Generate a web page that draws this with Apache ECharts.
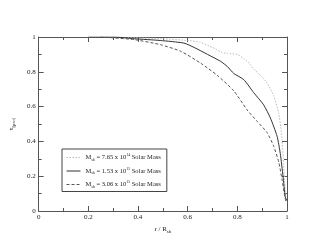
<!DOCTYPE html>
<html><head><meta charset="utf-8">
<script src="https://cdn.jsdelivr.net/npm/echarts@6/dist/echarts.min.js"></script>
<style>html,body{margin:0;padding:0;background:#fff}#c{width:322px;height:249px}</style>
</head><body><div id="c"></div>
<script>
var seriesNames = ['7.65', '1.53', '3.06'];
var seriesExp = ['14', '15', '15'];
var xDotted = [0.2, 0.3, 0.4, 0.5, 0.6, 0.65, 0.7, 0.733, 0.76, 0.8, 0.84, 0.87, 0.893, 0.92, 0.947, 0.967, 0.975, 0.98, 0.985, 0.99, 0.995, 1.0];
var yDotted = [1.0, 1.0, 0.995, 0.99, 0.98, 0.97, 0.94, 0.915, 0.905, 0.9, 0.86, 0.81, 0.78, 0.735, 0.66, 0.56, 0.48, 0.41, 0.3, 0.18, 0.08, 0.05];
var xSolid = [0.2, 0.3, 0.385, 0.49, 0.585, 0.626, 0.68, 0.733, 0.76, 0.786, 0.826, 0.866, 0.906, 0.933, 0.96, 0.973, 0.984, 0.993, 1.0];
var ySolid = [1.0, 1.0, 0.99, 0.98, 0.965, 0.94, 0.9, 0.86, 0.83, 0.79, 0.755, 0.68, 0.61, 0.535, 0.43, 0.33, 0.2, 0.08, 0.06];
var xDashed = [0.25, 0.3, 0.385, 0.49, 0.572, 0.652, 0.719, 0.786, 0.84, 0.88, 0.92, 0.947, 0.967, 0.98, 0.989, 0.996];
var yDashed = [1.0, 0.995, 0.985, 0.956, 0.918, 0.85, 0.78, 0.69, 0.58, 0.515, 0.45, 0.37, 0.28, 0.18, 0.1, 0.05];
var xTicks = [0, 0.2, 0.4, 0.6, 0.8, 1];
var yTicks = [0, 0.2, 0.4, 0.6, 0.8, 1];

function pairs(xs, ys) { return xs.map(function (x, i) { return [x, ys[i]]; }); }
function fmt(v) { return String(Math.round(v * 10) / 10); }

var font = 'Liberation Serif';
var axColor = '#555';
var chart = echarts.init(document.getElementById('c'));
var legendLabels = seriesNames.map(function (m, i) {
  return 'M' + i + ' ' + m + ' ' + seriesExp[i];
});
function axisBase() {
  return {
    axisLine: { onZero: false, lineStyle: { color: axColor, width: 1 } },
    axisTick: { inside: true, length: 5, lineStyle: { color: axColor } },
    minorTick: { show: true, splitNumber: 2, length: 3, lineStyle: { color: axColor } },
    splitLine: { show: false }
  };
}
chart.setOption({
  animation: false,
  backgroundColor: '#fff',
  textStyle: { fontFamily: font },
  grid: { left: 37, right: 35, top: 37, bottom: 38 },
  xAxis: [
    Object.assign({ type: 'value', min: 0, max: 1, interval: 0.2, position: 'bottom',
      name: '{a|r / R}{s|sh}', nameLocation: 'middle', nameGap: 11,
      nameTextStyle: { rich: { a: { fontFamily: font, fontSize: 7, color: '#222' }, s: { fontFamily: font, fontSize: 5, color: '#222', padding: [4, 0, 0, 0] } } },
      axisLabel: { fontFamily: font, fontSize: 7, color: '#222', margin: 3, formatter: fmt } }, axisBase()),
    Object.assign({ type: 'value', min: 0, max: 1, interval: 0.2, position: 'top', axisLabel: { show: false } }, axisBase())
  ],
  yAxis: [
    Object.assign({ type: 'value', min: 0, max: 1, interval: 0.2, position: 'left',
      name: '{a|τ}{s|[pro]}', nameLocation: 'middle', nameGap: 14, nameRotate: 90,
      nameTextStyle: { rich: { a: { fontFamily: font, fontSize: 7, color: '#222' }, s: { fontFamily: font, fontSize: 5, color: '#222', padding: [4, 0, 0, 0] } } },
      axisLabel: { fontFamily: font, fontSize: 7, color: '#222', margin: 3, formatter: fmt } }, axisBase()),
    Object.assign({ type: 'value', min: 0, max: 1, interval: 0.2, position: 'right', axisLabel: { show: false } }, axisBase())
  ],
  legend: {
    orient: 'vertical', left: 62, top: 149,
    padding: [4, 6, 3, 4], itemGap: 5, itemWidth: 14, itemHeight: 8,
    borderColor: '#444', borderWidth: 1, backgroundColor: '#fff',
    itemStyle: { opacity: 0 },
    lineStyle: { width: 1 },
    data: legendLabels,
    formatter: function (name) {
      var i = legendLabels.indexOf(name);
      return '{a|M}{s|sh}{a| = ' + seriesNames[i] + ' x 10}{u|' + seriesExp[i] + '}{a| Solar Mass}';
    },
    textStyle: { rich: {
      a: { fontFamily: font, fontSize: 6.5, color: '#222' },
      s: { fontFamily: font, fontSize: 4, color: '#222', padding: [4, 0, 0, 0] },
      u: { fontFamily: font, fontSize: 4, color: '#222', padding: [0, 0, 5, 0] }
    } }
  },
  series: [
    { name: legendLabels[0], type: 'line', symbol: 'none', smooth: 0.2, data: pairs(xDotted, yDotted),
      lineStyle: { color: '#bbb', width: 1, type: [1.5, 1.5] }, itemStyle: { color: '#bbb' } },
    { name: legendLabels[1], type: 'line', symbol: 'none', smooth: 0.2, data: pairs(xSolid, ySolid),
      lineStyle: { color: '#333', width: 1 }, itemStyle: { color: '#333' } },
    { name: legendLabels[2], type: 'line', symbol: 'none', smooth: 0.2, data: pairs(xDashed, yDashed),
      lineStyle: { color: '#555', width: 1, type: [3, 2] }, itemStyle: { color: '#555' } }
  ]
});
</script></body></html>
